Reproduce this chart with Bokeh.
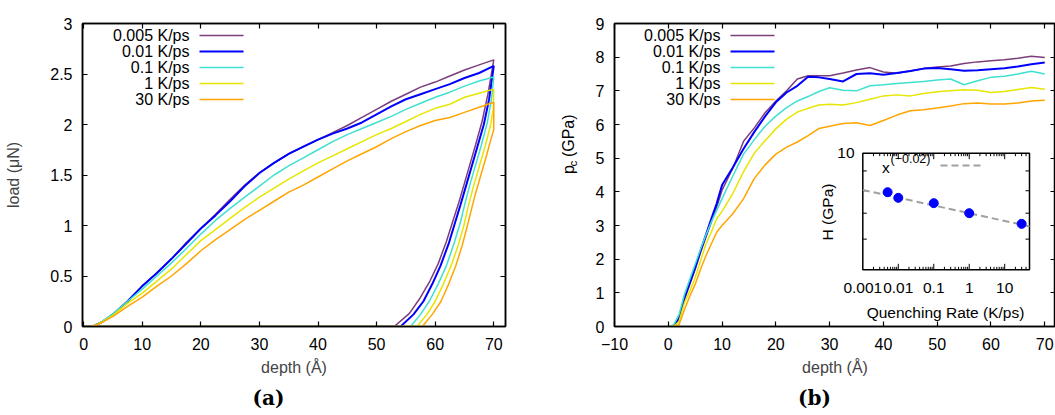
import math
from bokeh.plotting import figure
from bokeh.models import Range1d, LogScale, LinearAxis, FixedTicker, CustomJSTickFormatter, Label, Title
from bokeh.layouts import row
from bokeh.core.properties import value
from bokeh.embed import file_html
from bokeh.resources import INLINE

# ------------------------------------------------------------------ data
series_labels = ["0.005 K/ps", "0.01 K/ps", "0.1 K/ps", "1 K/ps", "30 K/ps"]
series_colors = ["#7b3d7b", "#0000ff", "#40e0d0", "#e6e600", "#ffa500"]
series_widths = [1.5, 2.0, 1.5, 1.5, 1.5]

# (a) load vs depth, loading branch
depth_load = [0, 1.5, 3, 5, 7.5, 10, 12.5, 15, 17.5, 20, 22.5, 25, 27.5, 30, 32.5,
              35, 37.5, 40, 42.5, 45, 47.5, 50, 52.5, 55, 57.5, 60, 62.5, 65, 67.5, 70]
load_0005 = [0, 0, .04, .12, .25, .40, .53, .67, .83, .97, 1.11, 1.26, 1.40, 1.52, 1.62,
             1.71, 1.78, 1.85, 1.92, 1.99, 2.07, 2.15, 2.23, 2.30, 2.37, 2.42, 2.48, 2.54, 2.59, 2.64]
load_001 = [0, 0, .04, .12, .25, .40, .53, .67, .82, .97, 1.10, 1.24, 1.39, 1.52, 1.62,
            1.71, 1.78, 1.85, 1.91, 1.96, 2.02, 2.10, 2.18, 2.25, 2.30, 2.35, 2.40, 2.46, 2.51, 2.58]
load_01 = [0, 0, .045, .125, .25, .37, .50, .63, .77, .915, 1.05, 1.17, 1.28, 1.39, 1.50,
           1.59, 1.67, 1.75, 1.83, 1.90, 1.96, 2.02, 2.08, 2.15, 2.21, 2.27, 2.32, 2.38, 2.43, 2.47]
load_1 = [0, 0, .04, .11, .23, .33, .45, .57, .71, .85, .96, 1.07, 1.18, 1.28, 1.37,
          1.46, 1.54, 1.62, 1.69, 1.76, 1.83, 1.90, 1.96, 2.03, 2.10, 2.16, 2.20, 2.27, 2.31, 2.35]
load_30 = [0, 0, .035, .10, .20, .29, .40, .50, .62, .75, .86, .96, 1.06, 1.15, 1.24,
           1.33, 1.40, 1.48, 1.56, 1.64, 1.71, 1.78, 1.86, 1.93, 1.99, 2.04, 2.07, 2.12, 2.17, 2.22]

# (a) unloading branch (then tip retracts at zero load)
unload_depth_0005 = [70, 69.0, 68.0, 66.9, 65.9, 64.9, 64.0, 63.1, 61.9, 60.5, 59.1, 57.4, 55.6, 53.0, 0]
unload_load_0005 = [2.64, 2.30, 2.03, 1.80, 1.60, 1.40, 1.22, 1.06, 0.84, 0.62, 0.45, 0.28, 0.13, 0, 0]
unload_depth_001 = [70, 69.2, 68.3, 67.2, 66.2, 65.2, 64.3, 63.5, 62.3, 60.9, 59.5, 58.0, 56.3, 54.1, 0]
unload_load_001 = [2.58, 2.25, 2.00, 1.78, 1.58, 1.38, 1.20, 1.05, 0.82, 0.60, 0.42, 0.25, 0.12, 0, 0]
unload_depth_01 = [70, 69.6, 68.9, 67.9, 66.9, 65.9, 65.0, 64.3, 63.2, 61.9, 60.5, 59.0, 57.5, 55.8, 0]
unload_load_01 = [2.47, 2.25, 2.02, 1.80, 1.60, 1.40, 1.20, 1.03, 0.82, 0.60, 0.42, 0.25, 0.12, 0, 0]
unload_depth_1 = [70, 69.9, 69.4, 68.5, 67.5, 66.5, 65.6, 64.9, 63.9, 62.7, 61.4, 60.0, 58.6, 56.9, 0]
unload_load_1 = [2.35, 2.15, 1.98, 1.78, 1.58, 1.38, 1.18, 1.00, 0.80, 0.60, 0.42, 0.25, 0.12, 0, 0]
unload_depth_30 = [70, 70, 69.5, 68.7, 67.8, 66.9, 66.1, 65.5, 64.6, 63.5, 62.3, 61.0, 59.5, 57.8, 0]
unload_load_30 = [2.22, 1.95, 1.85, 1.68, 1.50, 1.32, 1.14, 1.00, 0.80, 0.60, 0.42, 0.25, 0.12, 0, 0]

# (b) contact pressure vs depth
depth_pc = [0, 1, 2, 3, 4, 5, 6, 7, 8, 9, 10, 12, 14, 16, 18, 20, 22, 24, 26, 28, 30,
            32.5, 35, 37.5, 40, 42.5, 45, 47.5, 50, 52.5, 55, 57.5, 60, 62.5, 65, 67.5, 70]
pc_0005 = [0, 0, 0.2, 0.8, 1.25, 1.7, 2.2, 2.65, 3.1, 3.55, 4.05, 4.7, 5.5, 5.9, 6.35, 6.7, 7.0, 7.35, 7.45, 7.45, 7.45,
           7.53, 7.62, 7.69, 7.56, 7.52, 7.59, 7.66, 7.71, 7.74, 7.81, 7.86, 7.89, 7.92, 7.97, 8.03, 7.99]
pc_001 = [0, 0, 0.25, 0.85, 1.3, 1.75, 2.25, 2.72, 3.2, 3.65, 4.2, 4.72, 5.28, 5.78, 6.24, 6.66, 6.95, 7.15, 7.42, 7.4, 7.35,
          7.28, 7.5, 7.52, 7.48, 7.53, 7.59, 7.66, 7.68, 7.64, 7.6, 7.61, 7.64, 7.67, 7.72, 7.79, 7.84]
pc_01 = [0, 0.05, 0.35, 0.95, 1.4, 1.85, 2.3, 2.72, 3.1, 3.45, 3.8, 4.47, 5.12, 5.55, 5.95, 6.25, 6.5, 6.7, 6.83, 6.98, 7.09,
         7.02, 7.0, 7.15, 7.18, 7.22, 7.25, 7.28, 7.32, 7.35, 7.18, 7.3, 7.4, 7.43, 7.5, 7.58, 7.5]
pc_1 = [0, 0, 0.15, 0.7, 1.05, 1.45, 1.95, 2.45, 2.8, 3.2, 3.42, 3.95, 4.6, 5.15, 5.52, 5.87, 6.16, 6.37, 6.48, 6.58, 6.6,
        6.58, 6.65, 6.75, 6.85, 6.88, 6.85, 6.92, 6.97, 7.0, 7.03, 7.02, 6.95, 6.98, 7.04, 7.1, 7.05]
pc_30 = [0, 0, 0.05, 0.5, 0.9, 1.25, 1.7, 2.1, 2.45, 2.8, 3.0, 3.35, 3.8, 4.4, 4.8, 5.12, 5.33, 5.48, 5.67, 5.88, 5.95,
         6.03, 6.05, 5.97, 6.12, 6.28, 6.41, 6.44, 6.49, 6.55, 6.62, 6.64, 6.61, 6.61, 6.64, 6.70, 6.72]

# inset: hardness vs quenching rate, power-law fit
quench_rates = [0.005, 0.01, 0.1, 1, 30]
hardness = [7.93, 7.67, 7.43, 7.0, 6.57]
fit_coef = 7.0
fit_exp = -0.02
fit_label_base = "x"
fit_label_sup = "(\u22120.02)"

# ticks
xticks_a = [0, 10, 20, 30, 40, 50, 60, 70]
xlabels_a = ["0", "10", "20", "30", "40", "50", "60", "70"]
yticks_a = [0, 0.5, 1, 1.5, 2, 2.5, 3]
ylabels_a = ["0", "0.5", "1", "1.5", "2", "2.5", "3"]
xticks_b = [-10, 0, 10, 20, 30, 40, 50, 60, 70]
xlabels_b = ["\u221210", "0", "10", "20", "30", "40", "50", "60", "70"]
yticks_b = [0, 1, 2, 3, 4, 5, 6, 7, 8, 9]
ylabels_b = ["0", "1", "2", "3", "4", "5", "6", "7", "8", "9"]
ins_xticks = [0.001, 0.01, 0.1, 1, 10]
ins_xlabels = ["0.001", "0.01", "0.1", "1", "10"]
ins_ylabels = ["10"]

loads = [load_0005, load_001, load_01, load_1, load_30]
unload_d = [unload_depth_0005, unload_depth_001, unload_depth_01, unload_depth_1, unload_depth_30]
unload_l = [unload_load_0005, unload_load_001, unload_load_01, unload_load_1, unload_load_30]
pcs = [pc_0005, pc_001, pc_01, pc_1, pc_30]

# ------------------------------------------------------------------ layout (page pixels)
FONT = "Liberation Sans"
FS = "16px"
H = 415
XR_A, YR_A = (-0.2, 72.0), (0.0, 3.0)
XR_B, YR_B = (-10.0, 72.0), (0.0, 9.0)
A_X0, A_W = 0, 514          # figure (a) canvas
L_X0, L_W = 514, 74         # strip holding the rotated p_c label
B_X0, B_W = 588, 467        # figure (b) canvas
FA = dict(left=82, right=505, top=23, bottom=326)
FB = dict(left=614, right=1055, top=23, bottom=326)


def mapper(F, XR, YR):
    def fx(X):
        return XR[0] + (X - F["left"]) / (F["right"] - F["left"]) * (XR[1] - XR[0])

    def fy(Y):
        return YR[0] + (F["bottom"] - Y) / (F["bottom"] - F["top"]) * (YR[1] - YR[0])
    return fx, fy


xa, ya = mapper(FA, XR_A, YR_A)
xb, yb = mapper(FB, XR_B, YR_B)


def style_axis(ax, ticks, labels, show_labels=True):
    ax.ticker = FixedTicker(ticks=ticks)
    ax.axis_line_color = "black"
    ax.axis_line_width = 1.5
    ax.major_tick_in = 5
    ax.major_tick_out = 0
    ax.major_tick_line_color = "black"
    ax.major_tick_line_width = 1.2
    ax.minor_tick_line_color = None
    ax.axis_label_text_font = FONT
    ax.axis_label_text_font_size = FS
    ax.axis_label_text_font_style = "normal"
    ax.major_label_text_font = FONT
    ax.major_label_text_font_size = FS
    ax.major_label_text_color = "black"
    if show_labels:
        ax.major_label_overrides = {t: l for t, l in zip(ticks, labels)}
    else:
        ax.formatter = CustomJSTickFormatter(code="return ''")
        ax.major_label_text_font_size = "0px"
        ax.major_label_standoff = 0


def make_fig(x0, width, F, XR, YR):
    p = figure(width=width, height=H, x_range=Range1d(*XR), y_range=Range1d(*YR),
               output_backend="svg", toolbar_location=None,
               min_border_left=F["left"] - x0, min_border_right=x0 + width - F["right"],
               min_border_top=F["top"], min_border_bottom=H - F["bottom"])
    p.xgrid.visible = False
    p.ygrid.visible = False
    p.outline_line_color = "black"
    p.outline_line_width = 1.5
    p.background_fill_color = "white"
    p.border_fill_color = "white"
    return p


def add_mirrors(p, xt, yt):
    top = LinearAxis()
    style_axis(top, xt, None, show_labels=False)
    p.add_layout(top, "above")
    right = LinearAxis()
    style_axis(right, yt, None, show_labels=False)
    p.add_layout(right, "right")


def legend(p, fx, fy, text_right, line_x0, line_x1, rows_y):
    for i, (lab, col, w) in enumerate(zip(series_labels, series_colors, series_widths)):
        Y = rows_y[i]
        p.add_layout(Label(x=fx(text_right), y=fy(Y), text=lab, text_align="right",
                           text_baseline="middle", text_font=FONT, text_font_size=FS,
                           text_color="black"))
        p.segment(x0=[fx(line_x0)], y0=[fy(Y)], x1=[fx(line_x1)], y1=[fy(Y)],
                  line_color=col, line_width=w)


def caption(p, text, F, center_x):
    t = Title(text=text, align="left", offset=center_x - 16 - F["left"],
              text_font="DejaVu Serif", text_font_style="bold", text_font_size="20px",
              text_color="black")
    p.add_layout(t, "below")


rows_y = [35, 51, 67, 83, 99]

# ------------------------------------------------------------------ (a)
pa = make_fig(A_X0, A_W, FA, XR_A, YR_A)
style_axis(pa.xaxis[0], xticks_a, xlabels_a)
style_axis(pa.yaxis[0], yticks_a, ylabels_a)
pa.xaxis[0].axis_label = "depth (\u00c5)"
pa.yaxis[0].axis_label = "load (\u03bcN)"
pa.xaxis[0].major_label_standoff = 11
pa.xaxis[0].axis_label_standoff = 6
pa.yaxis[0].major_label_standoff = 10
pa.yaxis[0].axis_label_standoff = 25
add_mirrors(pa, xticks_a, yticks_a)

for i in range(5):
    xs = depth_load + unload_d[i]
    ys = loads[i] + unload_l[i]
    pa.line(xs, ys, line_color=series_colors[i], line_width=series_widths[i])

legend(pa, xa, ya, 189, 199, 243, rows_y)
caption(pa, "(a)", FA, 268)

# ------------------------------------------------------------------ strip with p_c (GPa)
pl = figure(width=L_W, height=H, x_range=Range1d(L_X0, L_X0 + L_W), y_range=Range1d(0, H),
            output_backend="svg", toolbar_location=None, x_axis_location=None, y_axis_location=None,
            min_border_left=0, min_border_right=0, min_border_top=0, min_border_bottom=0)
pl.xgrid.visible = False
pl.ygrid.visible = False
pl.outline_line_color = None
pl.border_fill_color = "white"
for txt, X, Y, fs in [("p", 567.5, 206, FS), ("c", 572.5, 196.0, "11.5px"), ("(GPa)", 567.5, 183.0, FS)]:
    pl.text(x=[X], y=[H - Y], text=[txt], angle=math.pi / 2, text_align="left",
            text_baseline="middle", text_font=value(FONT), text_font_size=fs, text_color="black")

# ------------------------------------------------------------------ (b)
pb = make_fig(B_X0, B_W, FB, XR_B, YR_B)
style_axis(pb.xaxis[0], xticks_b, xlabels_b)
style_axis(pb.yaxis[0], yticks_b, ylabels_b)
pb.xaxis[0].axis_label = "depth (\u00c5)"
pb.xaxis[0].major_label_standoff = 11
pb.xaxis[0].axis_label_standoff = 6
pb.yaxis[0].major_label_standoff = 10
add_mirrors(pb, xticks_b, yticks_b)

for i in range(5):
    pb.line(depth_pc, pcs[i], line_color=series_colors[i], line_width=series_widths[i])

legend(pb, xb, yb, 720, 730, 774, rows_y)
caption(pb, "(b)", FB, 813.6)

# ---- inset (log-log) drawn through extra log scales
IN_L, IN_R, IN_T, IN_B = 862.3, 1029.0, 152.7, 269.3
ins_xlim = (0.001, 50.0)
ins_ylim = (5.0, 10.0)
ppd_x = (IN_R - IN_L) / (math.log10(ins_xlim[1]) - math.log10(ins_xlim[0]))
ppd_y = (IN_B - IN_T) / (math.log10(ins_ylim[1]) - math.log10(ins_ylim[0]))
lx0 = math.log10(ins_xlim[0]) - (IN_L - FB["left"]) / ppd_x
lx1 = math.log10(ins_xlim[0]) + (FB["right"] - IN_L) / ppd_x
ly0 = math.log10(ins_ylim[0]) - (FB["bottom"] - IN_B) / ppd_y
ly1 = math.log10(ins_ylim[1]) + (IN_T - FB["top"]) / ppd_y
pb.extra_x_ranges = {"insx": Range1d(10 ** lx0, 10 ** lx1)}
pb.extra_x_scales = {"insx": LogScale()}
pb.extra_y_ranges = {"insy": Range1d(10 ** ly0, 10 ** ly1)}
pb.extra_y_scales = {"insy": LogScale()}
IX = dict(x_range_name="insx", y_range_name="insy")

pb.quad(left=[ins_xlim[0]], right=[ins_xlim[1]], bottom=[ins_ylim[0]], top=[ins_ylim[1]],
        fill_color="white", line_color="black", line_width=1.5, **IX)

# inset ticks
fy_len = lambda px: 10 ** (px / ppd_y)
fx_len = lambda px: 10 ** (px / ppd_x)
minor_x = [k * 10 ** e for e in range(-3, 2) for k in range(2, 10) if k * 10 ** e < ins_xlim[1]]
tx0, ty0, tx1, ty1 = [], [], [], []
for v, ln in [(t, 6) for t in ins_xticks[1:]] + [(t, 3) for t in minor_x]:
    tx0 += [v, v]; tx1 += [v, v]
    ty0 += [ins_ylim[0], ins_ylim[1]]
    ty1 += [ins_ylim[0] * fy_len(ln), ins_ylim[1] / fy_len(ln)]
for v in [6, 7, 8, 9]:
    ty0 += [v, v]; ty1 += [v, v]
    tx0 += [ins_xlim[0], ins_xlim[1]]
    tx1 += [ins_xlim[0] * fx_len(4), ins_xlim[1] / fx_len(4)]
pb.segment(x0=tx0, y0=ty0, x1=tx1, y1=ty1, line_color="black", line_width=1, **IX)

# fit line and data points
fit_x = [ins_xlim[0], ins_xlim[1]]
fit_y = [fit_coef * x ** fit_exp for x in fit_x]
pb.line(fit_x, fit_y, line_color="#a0a0a0", line_width=2, line_dash="7 4", **IX)
pb.scatter(quench_rates, hardness, size=9, fill_color="#0000ff", line_color="#0000ff", **IX)

# inset tick labels
pb.text(x=ins_xticks, y=[yb(287)] * len(ins_xticks), text=ins_xlabels, x_range_name="insx",
        text_align="center", text_baseline="middle", text_font=value(FONT),
        text_font_size="15.5px", text_color="black")
pb.text(x=[xb(854)], y=[ins_ylim[1]], text=ins_ylabels, y_range_name="insy",
        text_align="right", text_baseline="middle", text_font=value(FONT),
        text_font_size="15.5px", text_color="black")

pb.add_layout(Label(x=xb(826.5), y=yb(211.5), text="H (GPa)", angle=math.pi / 2, text_align="center",
                    text_baseline="middle", text_font=FONT, text_font_size="15.5px", text_color="black"))
pb.add_layout(Label(x=xb(945), y=yb(311.5), text="Quenching Rate (K/ps)", text_align="center",
                    text_baseline="middle", text_font=FONT, text_font_size="15.5px", text_color="black"))

# inset key
pb.add_layout(Label(x=xb(881.5), y=yb(167), text=fit_label_base, text_align="left", text_baseline="middle",
                    text_font=FONT, text_font_size="15.5px", text_color="black"))
pb.add_layout(Label(x=xb(890), y=yb(158.5), text=fit_label_sup, text_align="left", text_baseline="middle",
                    text_font=FONT, text_font_size="12.5px", text_color="black"))
pb.segment(x0=[xb(940)], y0=[yb(165)], x1=[xb(984)], y1=[yb(165)],
           line_color="#a0a0a0", line_width=2, line_dash="7 4")

layout = row(pa, pl, pb)
open("out.html", "w").write(file_html(layout, INLINE))
